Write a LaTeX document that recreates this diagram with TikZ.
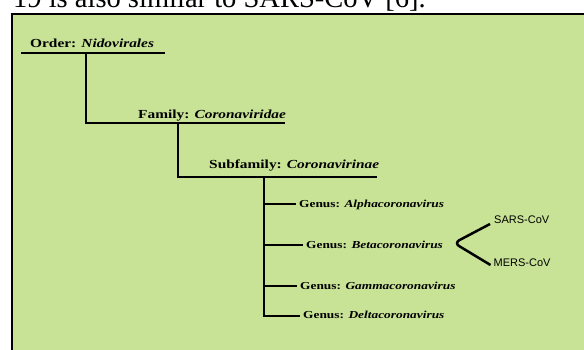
\documentclass[tikz,border=0pt]{standalone}
\usepackage{fontspec}
\setmainfont{Liberation Serif}
\newfontfamily\arialfont{Liberation Sans}
\usepackage{graphicx}
\usetikzlibrary{positioning,calc}
\definecolor{panelgreen}{RGB}{200,226,150}
\newcommand{\wide}[1]{\scalebox{1.25}[1]{#1}}

\begin{document}
\begin{tikzpicture}[
  x=1pt,y=-1pt,
  rank/.style={
    anchor=base west,
    inner sep=0pt,
    font=\fontsize{12.3}{14}\selectfont\bfseries
  },
  genus/.style={
    anchor=base west,
    inner xsep=3pt,
    inner ysep=0pt,
    font=\fontsize{10.7}{12}\selectfont\bfseries
  },
  virus/.style={
    anchor=base west,
    inner sep=0pt,
    font=\fontsize{11}{12}\selectfont\arialfont
  },
  edge/.style={draw=black,line width=2.9pt},
  bracket/.style={draw=black,line width=2.5pt,rounded corners=6pt}
]
  \useasboundingbox (0,0) rectangle (584,350);
  \clip (0,0) rectangle (584,350);

  \node[anchor=base west,inner sep=0pt,font=\fontsize{28.5}{30}\selectfont]
    (caption) at (13,8) {19 is also similar to SARS-CoV [6].};

  \fill[panelgreen] (12,14) rectangle (600,360);
  \draw[line width=1.2pt] (12,360) -- (12,14) -- (600,14);

  \node[rank] (order) at (30,47.5) {\wide{Order: \textit{Nidovirales}}};
  \node[rank] (family) at (138,119) {\wide{Family: \textit{Coronaviridae}}};
  \node[rank] (subfamily) at (209,169) {\wide{Subfamily: \textit{Coronavirinae}}};

  \node[genus] (alpha) at (296,207.5) {\wide{Genus: \textit{Alphacoronavirus}}};
  \node[genus] (beta) at (303,248.5) {\wide{Genus: \textit{Betacoronavirus}}};
  \node[genus] (gamma) at (297,289) {\wide{Genus: \textit{Gammacoronavirus}}};
  \node[genus] (delta) at (300,318.5) {\wide{Genus: \textit{Deltacoronavirus}}};

  \node[virus] (sars) at (494,223) {SARS-CoV};
  \node[virus] (mers) at (493.5,266.5) {MERS-CoV};

  \coordinate (ordL) at (21,53);
  \coordinate (ordR) at (165,53);
  \coordinate (ordM) at (86,53);
  \coordinate (famR) at (285,123);
  \coordinate (famM) at (178,123);
  \coordinate (subR) at (377,177);
  \coordinate (subM) at (264,177);
  \coordinate (gA) at (264,204);
  \coordinate (gB) at (264,245);
  \coordinate (gC) at (264,286);
  \coordinate (gD) at (264,316);
  \coordinate (brTip) at (454,243);

  \draw[edge] (ordL) -- (ordR);
  \draw[edge] (ordM) |- (famR);
  \draw[edge] (famM) |- (subR);
  \draw[edge] (subM) -- (gD) -- (gD -| delta.west);
  \draw[edge] (gA) -- (gA -| alpha.west);
  \draw[edge] (gB) -- (gB -| beta.west);
  \draw[edge] (gC) -- (gC -| gamma.west);

  \draw[bracket] ($(sars.base west)+(-4,1)$) -- (brTip) -- ($(mers.base west)+(-3,-1.5)$);
\end{tikzpicture}
\end{document}
